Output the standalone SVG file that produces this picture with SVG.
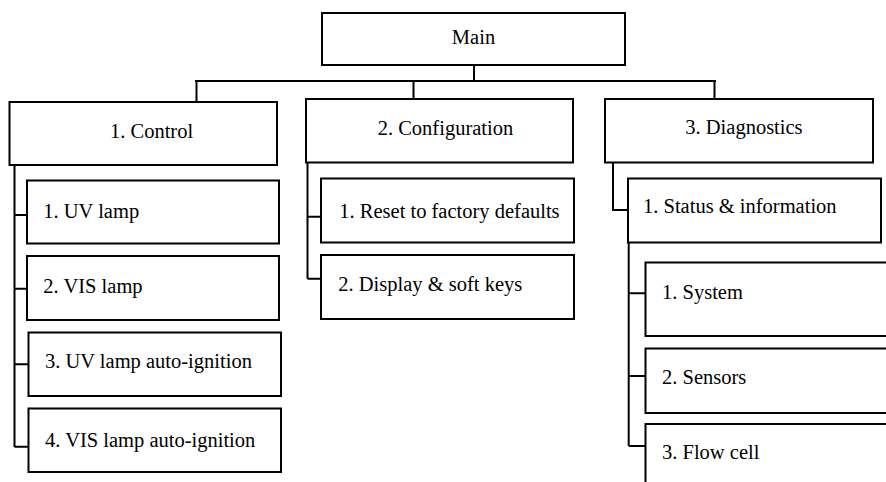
<svg xmlns="http://www.w3.org/2000/svg" width="886" height="482" viewBox="0 0 886 482">
<style>
.box{fill:#fff;stroke:#000;stroke-width:2}
.ln{stroke:#000;stroke-width:2;fill:none}
.t{font-family:'Liberation Serif','Times New Roman','DejaVu Serif',serif;font-size:20.5px;fill:#000}
</style>
<rect width="886" height="482" fill="#fff"/>
<g id="connectors">
<path class="ln" d="M474,65V81M195,81H716M196.5,81V102M413.5,81V99M714.5,81V99"/>
<path class="ln" d="M14.5,165V447M14.5,215H27M14.5,288.7H27M14.5,364.3H28.5M14.5,446.7H28.5"/>
<path class="ln" d="M307.5,162.5V278.7M307.5,216.7H321M307.5,278.7H321"/>
<path class="ln" d="M613,162.5V210H628"/>
<path class="ln" d="M628.7,242.5V446M628.7,293.3H645.5M628.7,376H645.5M628.7,446H645.5"/>
</g>
<g class="t" font-family="Liberation Serif, serif">
<g id="main"><rect class="box" x="322" y="13" width="303" height="52"/><text x="473.5" y="44" text-anchor="middle">Main</text></g>
<g id="control"><rect class="box" x="9.5" y="102" width="267.5" height="63"/><text x="110" y="138.3">1. Control</text></g>
<g id="configuration"><rect class="box" x="306" y="99" width="267" height="63.5"/><text x="377.7" y="135">2. Configuration</text></g>
<g id="diagnostics"><rect class="box" x="605" y="99" width="268" height="63.5"/><text x="685.3" y="134.3">3. Diagnostics</text></g>
<g id="uv-lamp"><rect class="box" x="27" y="180.5" width="252" height="63"/><text x="43.3" y="218.3">1. UV lamp</text></g>
<g id="vis-lamp"><rect class="box" x="27" y="256" width="252" height="64"/><text x="43.3" y="292.7">2. VIS lamp</text></g>
<g id="uv-auto"><rect class="box" x="28.5" y="332.5" width="252.5" height="63.5"/><text x="45" y="367.7">3. UV lamp auto-ignition</text></g>
<g id="vis-auto"><rect class="box" x="28.5" y="408.5" width="252.5" height="63.5"/><text x="45" y="446.7">4. VIS lamp auto-ignition</text></g>
<g id="reset"><rect class="box" x="321" y="178.5" width="253" height="64"/><text x="339.3" y="218.3">1. Reset to factory defaults</text></g>
<g id="display"><rect class="box" x="321" y="255" width="253" height="64"/><text x="338.3" y="291">2. Display &amp; soft keys</text></g>
<g id="status"><rect class="box" x="628" y="178.5" width="253" height="64"/><text x="643" y="213.3">1. Status &amp; information</text></g>
<g id="system"><rect class="box" x="645.5" y="262.5" width="260" height="73.5"/><text x="662" y="299.3">1. System</text></g>
<g id="sensors"><rect class="box" x="645.5" y="348.5" width="260" height="64.5"/><text x="662" y="384.3">2. Sensors</text></g>
<g id="flow-cell"><rect class="box" x="645.5" y="424" width="260" height="80"/><text x="662" y="459.3">3. Flow cell</text></g>
</g>
</svg>
